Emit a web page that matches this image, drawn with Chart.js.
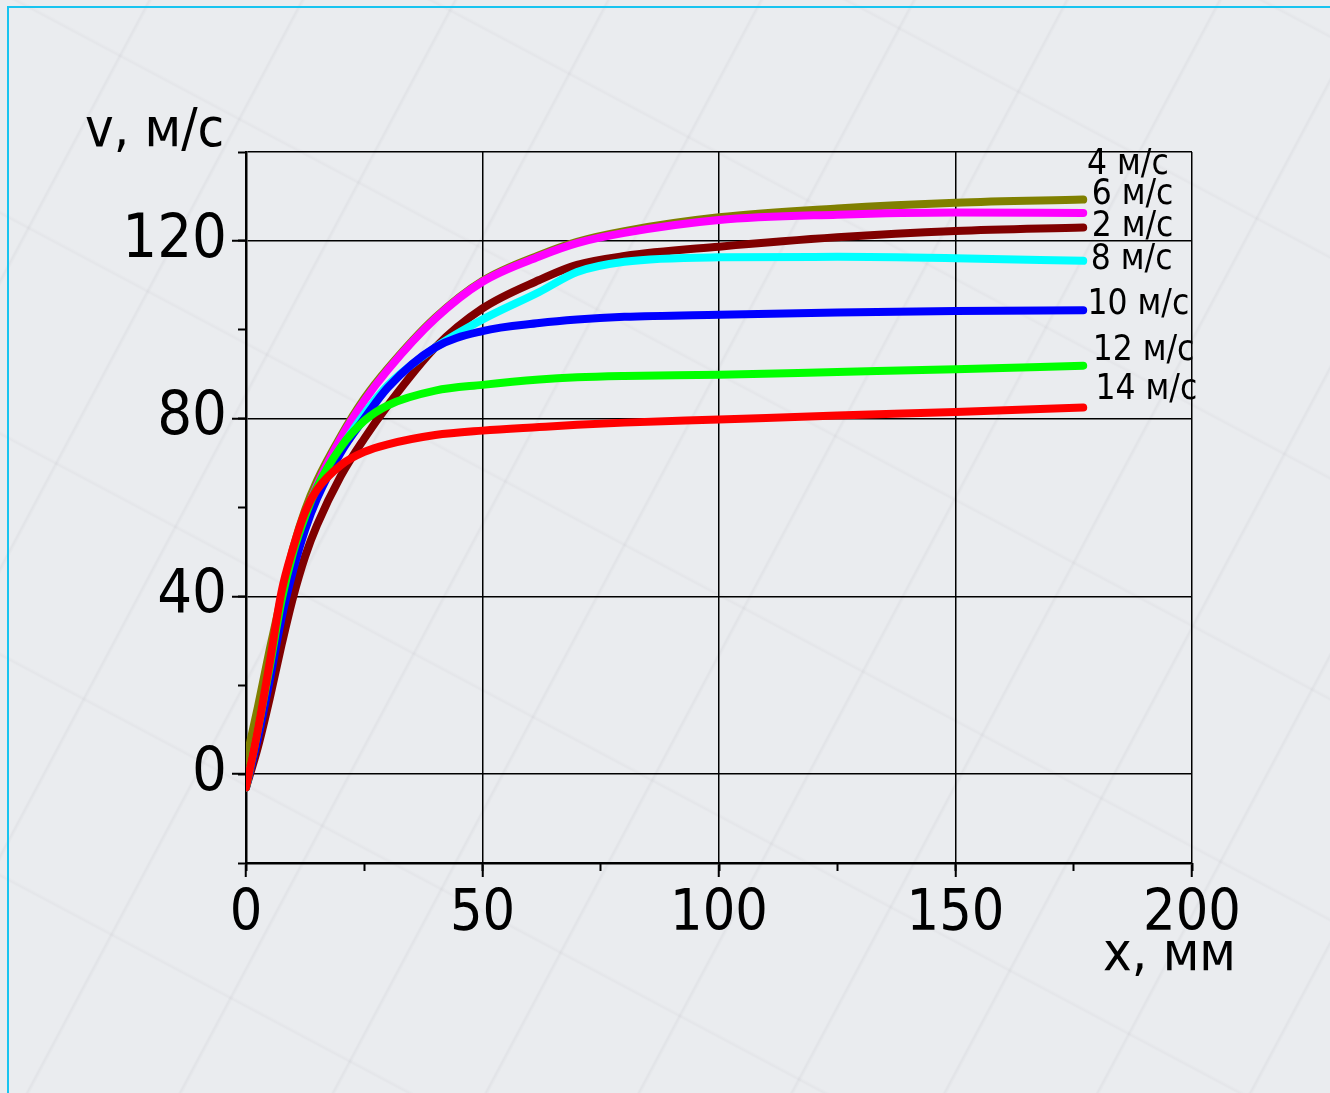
<!DOCTYPE html>
<html>
<head>
<meta charset="utf-8">
<script src="https://cdn.jsdelivr.net/npm/chart.js@4.4.1/dist/chart.umd.min.js"></script>
<style>
  html, body { margin: 0; padding: 0; }
  body {
    width: 1330px; height: 1093px; overflow: hidden; position: relative;
    background-color: #eaecef;
    background-image:
      repeating-linear-gradient(118deg, rgba(150,150,160,0) 0px, rgba(150,150,160,0) 130px, rgba(150,150,160,0.10) 132px, rgba(150,150,160,0) 135px),
      repeating-linear-gradient(28deg, rgba(160,155,165,0) 0px, rgba(160,155,165,0) 190px, rgba(160,155,165,0.08) 192px, rgba(160,155,165,0) 195px);
  }
  #frame {
    position: absolute; left: 7px; top: 6px; right: -10px; bottom: -10px;
    border-left: 2px solid #18c4f0; border-top: 2px solid #18c4f0;
  }
  #chart { position: absolute; left: 0; top: 0; }
</style>
</head>
<body>
<div id="frame"></div>
<canvas id="chart" width="1330" height="1093"></canvas>
<script>
// x, mm - common sample points for all curves
const xMm = [0, 2.5, 5, 7.5, 10, 12.5, 15, 20, 25, 30, 40, 50, 62, 70, 80, 100, 125, 150, 177];

// v, m/s for each wind speed
const v4  = [3, 15, 28, 40, 51, 59.5, 66, 76, 84.5, 91.3, 102.7, 111, 116.8, 119.8, 122.2, 125.3, 127.3, 128.6, 129.3];
const v6  = [-3, 9, 23, 37, 49, 58, 65, 75.5, 84, 91, 102.5, 110.8, 116.5, 119.5, 121.8, 124.7, 125.9, 126.4, 126.3];
const v2  = [-3, 6, 17, 29, 40, 49, 56, 67, 75.5, 83, 96, 104.8, 111.2, 114.6, 116.6, 118.7, 120.8, 122.2, 123];
const v8  = [-3, 9, 22, 36, 47, 56, 63, 73, 81, 87.5, 96, 102.3, 108.5, 113, 115.3, 116.3, 116.4, 116.1, 115.5];
const v10 = [-3, 8, 21, 35, 46, 55, 62, 72.3, 80, 87, 96, 99.7, 101.5, 102.3, 102.9, 103.4, 103.9, 104.2, 104.4];
const v12 = [-3, 10, 24, 39, 50, 58, 64.5, 73.5, 79.5, 83, 86.3, 87.6, 88.8, 89.3, 89.6, 89.9, 90.5, 91.1, 91.9];
const v14 = [-3, 10, 25, 41, 51, 59, 64, 69.5, 72.5, 74.2, 76.3, 77.3, 78.1, 78.6, 79.1, 79.8, 80.7, 81.5, 82.5];

const seriesNames = ['4 м/с', '6 м/с', '2 м/с', '8 м/с', '10 м/с', '12 м/с', '14 м/с'];
const seriesData = [v4, v6, v2, v8, v10, v12, v14];
const seriesColors = ['#808000', '#ff00ff', '#800000', '#00ffff', '#0000ff', '#00ff00', '#ff0000'];
// drawing order: lower number is drawn on top
const seriesOrder = [6, 5, 4, 3, 2, 1, 0];

// where the curve names sit (axis units, right of the curve ends)
const labelV = [137.1, 130.3, 123.1, 115.7, 105.6, 95.3, 86.5];
const labelX = [177.8, 178.8, 178.8, 178.6, 177.9, 179, 179.6];

const yTicksMajor = [0, 40, 80, 120];

const FONT = "'DejaVu Sans Condensed', 'Liberation Sans', sans-serif";

const datasets = seriesData.map((vals, i) => ({
    label: seriesNames[i],
    data: vals.map((v, k) => ({ x: xMm[k], y: v })),
    borderColor: seriesColors[i],
    backgroundColor: seriesColors[i],
    borderWidth: 8,
    borderCapStyle: 'round',
    borderJoinStyle: 'round',
    pointRadius: 0,
    cubicInterpolationMode: 'monotone',
    order: seriesOrder[i],
    xAxisID: 'x',
    yAxisID: 'y'
}));

// curve names and axis titles
const textPlugin = {
    id: 'textPlugin',
    afterDatasetsDraw(chart) {
        const ctx = chart.ctx;
        const xs = chart.scales.x, ys = chart.scales.y;
        ctx.save();
        ctx.fillStyle = '#000';
        ctx.textBaseline = 'middle';
        ctx.textAlign = 'left';
        ctx.font = '35px ' + FONT;
        seriesNames.forEach((name, i) => {
            ctx.fillText(name, xs.getPixelForValue(labelX[i]), ys.getPixelForValue(labelV[i]));
        });
        ctx.textBaseline = 'alphabetic';
        ctx.font = '54px ' + FONT;
        ctx.fillText('v, м/с', 85, 146);
        ctx.textAlign = 'right';
        ctx.fillText('x, мм', 1236, 970);
        ctx.restore();
    }
};

const isMajor = (v, list) => list.some(t => Math.abs(t - v) < 1e-6);

new Chart(document.getElementById('chart').getContext('2d'), {
    type: 'line',
    data: { datasets: datasets },
    options: {
        responsive: false,
        animation: false,
        devicePixelRatio: 1,
        layout: { padding: { left: 0, top: 152, right: 138, bottom: 0 } },
        plugins: { legend: { display: false }, tooltip: { enabled: false } },
        scales: {
            x: {
                type: 'linear', position: 'bottom', min: 0, max: 200, weight: 0,
                afterFit(s) { s.height = 230; },
                ticks: {
                    stepSize: 50, padding: 4, color: '#000',
                    font: { family: FONT, size: 57 },
                    maxRotation: 0
                },
                grid: {
                    color: '#000', lineWidth: 1.5, tickLength: 14, tickWidth: 2, tickColor: '#000'
                },
                border: { display: true, color: '#000', width: 2.5 }
            },
            xMinor: {
                type: 'linear', position: 'bottom', min: 0, max: 200, weight: -1,
                afterFit(s) { s.height = 0; },
                ticks: { display: false, stepSize: 25 },
                grid: { drawOnChartArea: false, tickLength: 8, tickWidth: 2, tickColor: '#000' },
                border: { display: false }
            },
            y: {
                type: 'linear', position: 'left', min: -20, max: 140, weight: 0,
                afterFit(s) { s.width = 246; },
                ticks: {
                    stepSize: 20, padding: 5, color: '#000',
                    font: { family: FONT, size: 61 },
                    callback: (v) => isMajor(v, yTicksMajor) ? String(v) : ''
                },
                grid: {
                    color: (c) => (isMajor(c.tick.value, yTicksMajor) || c.tick.value === 140) ? '#000' : 'rgba(0,0,0,0)',
                    tickColor: (c) => isMajor(c.tick.value, yTicksMajor) ? '#000' : 'rgba(0,0,0,0)',
                    lineWidth: 1.5, tickLength: 14, tickWidth: 2
                },
                border: { display: true, color: '#000', width: 2.5 }
            },
            yMinor: {
                type: 'linear', position: 'left', min: -20, max: 140, weight: -1,
                afterFit(s) { s.width = 0; },
                ticks: { display: false, stepSize: 20 },
                grid: { drawOnChartArea: false, tickLength: 8, tickWidth: 2, tickColor: '#000' },
                border: { display: false }
            }
        }
    },
    plugins: [textPlugin]
});
</script>
</body>
</html>
